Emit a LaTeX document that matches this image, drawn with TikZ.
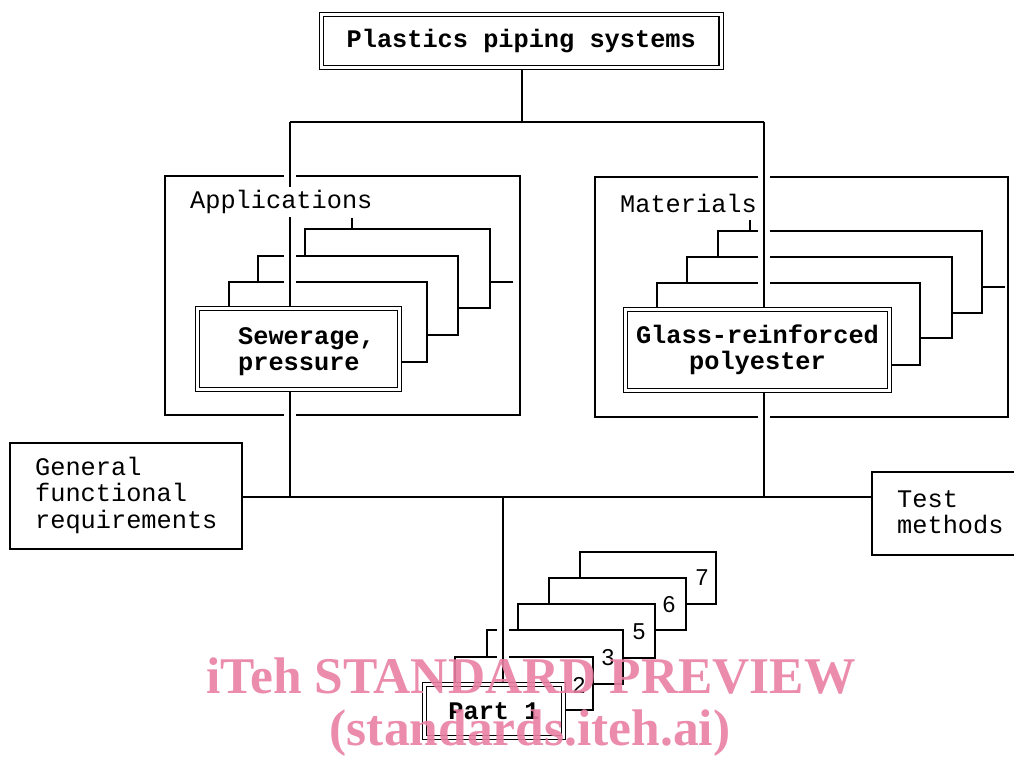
\documentclass[tikz,border=0pt]{standalone}
\usepackage{fontspec}
\newfontfamily\mono{Liberation Mono}
\newfontfamily\wmfont{Liberation Serif}
\newfontfamily\digfont{Liberation Sans}
\definecolor{wmpink}{RGB}{233,128,163}
\begin{document}
\begin{tikzpicture}[x=1pt,y=-1pt,
  ln/.style={line width=1.2pt},
  busline/.style={line width=2pt},
  dbox/.style={draw, line width=1.1pt, double=white, double distance=3pt, fill=white, inner sep=0pt},
  sbox/.style={draw, line width=1.2pt, inner sep=0pt},
  txt/.style={font=\mono\fontsize{25.3}{26.5}\selectfont, inner sep=0pt, align=left},
  btxt/.style={font=\mono\bfseries\fontsize{25.3}{26}\selectfont, inner sep=0pt, align=center},
  dig/.style={font=\digfont\fontsize{23}{23}\selectfont, inner sep=0pt},
  halo/.style={ln, preaction={draw=white, line width=12pt}},
  wm/.style={font=\wmfont\bfseries\fontsize{51.5}{52}\selectfont, text=wmpink, inner sep=0pt, opacity=0.9}
]
\useasboundingbox (0,0) rectangle (1014,756);

% large frames
\node[sbox, minimum width=355pt, minimum height=239pt] (appbox) at (342.5,295.5) {};
\node[sbox, minimum width=413pt, minimum height=240pt] (matbox) at (801.5,297) {};
\node[sbox, minimum width=232pt, minimum height=106pt] (gen) at (126,496) {};
\node[sbox, minimum width=158pt, minimum height=83pt] (test) at (951,513.5) {};

% stacked cards: applications
\draw[ln] (229,306) -- (229,282) -- (427,282) -- (427,362) -- (402,362);
\draw[ln] (258,282) -- (258,256) -- (458,256) -- (458,335) -- (427,335);
\draw[ln] (305,256) -- (305,229) -- (490,229) -- (490,308) -- (458,308);
\coordinate (atick) at (352,218);
\draw[ln] (atick) -- (352,229);
\coordinate (aright) at (513,282);
\draw[ln] (490,282) -- (aright);

% stacked cards: materials
\draw[ln] (657,307) -- (657,283) -- (920,283) -- (920,365) -- (892,365);
\draw[ln] (687,283) -- (687,257) -- (952,257) -- (952,338) -- (920,338);
\draw[ln] (718,257) -- (718,231) -- (982,231) -- (982,313) -- (952,313);
\coordinate (mtick) at (750,220);
\draw[ln] (mtick) -- (750,231);
\coordinate (mright) at (1005,287);
\draw[ln] (982,287) -- (mright);

% stacked cards: parts
\draw[ln] (455,682) -- (455,657) -- (593,657) -- (593,710) -- (566,710);
\draw[ln] (487,657) -- (487,630) -- (623,630) -- (623,684) -- (593,684);
\draw[ln] (518,630) -- (518,604) -- (655,604) -- (655,658) -- (623,658);
\draw[ln] (549,604) -- (549,578) -- (686,578) -- (686,630) -- (655,630);
\draw[ln] (580,578) -- (580,552) -- (716,552) -- (716,604) -- (686,604);

% front boxes
\node[dbox, minimum width=202pt, minimum height=81pt] (sew) at (298.5,349) {};
\node[dbox, minimum width=264pt, minimum height=81pt] (glass) at (757.5,350) {};
\node[dbox, minimum width=139pt, minimum height=53pt] (part1) at (494,711) {};
\node[dbox, minimum width=399.5pt, minimum height=53pt] (title) at (521.25,41) {};

% bus coordinates
\coordinate (tl) at (290,122);
\coordinate (tr) at (764,122);
\coordinate (ml) at (290,497);
\coordinate (mr) at (764,497);
\coordinate (mc) at (503,497);

% vertical connectors with white halo
\draw[halo] (tl) -- (tl |- sew.north);
\draw[halo] (tl |- sew.south) -- (ml);
\draw[halo] (tr) -- (tr |- glass.north);
\draw[halo] (tr |- glass.south) -- (mr);
\draw[halo] (mc) -- (mc |- part1.north);
\draw[ln] (title.south -| 522,0) -- (522,122);

% buses
\draw[ln] (tl) -- (tr);
\draw[busline] (gen.east |- ml) -- (test.west |- ml);

% redraw front boxes on top
\node[dbox, minimum width=202pt, minimum height=81pt] (sewf) at (sew) {};
\node[dbox, minimum width=264pt, minimum height=81pt, btxt] (glassf) at (glass) {Glass-reinforced\\polyester};
\node[dbox, minimum width=139pt, minimum height=53pt, btxt] (part1f) at (part1) {Part 1};
\node[dbox, minimum width=399.5pt, minimum height=53pt, btxt] (titlef) at (title) {Plastics piping systems};

% texts
\node[btxt, align=left, anchor=west] (sewtxt) at (238,352) {Sewerage,\\pressure};
\node[txt, anchor=west, fill=white, inner sep=3pt] (applbl) at (187,202) {Applications};
\node[txt, anchor=west] (matlbl) at (620,203) {Materials};
\node[txt, anchor=west] (gentxt) at (35,495) {General\\functional\\requirements};
\node[txt, anchor=west] (testtxt) at (897,512) {Test\\methods};

% part numbers
\node[dig] (n2) at (579,685) {2};
\node[dig] (n3) at (608,658) {3};
\node[dig] (n5) at (639,632) {5};
\node[dig] (n6) at (669,605) {6};
\node[dig] (n7) at (702,578) {7};

% watermark
\node[wm, anchor=base] (wm1) at (531,693) {iTeh STANDARD PREVIEW};
\node[wm, anchor=base] (wm2) at (530,745) {(standards.iteh.ai)};
\end{tikzpicture}
\end{document}
